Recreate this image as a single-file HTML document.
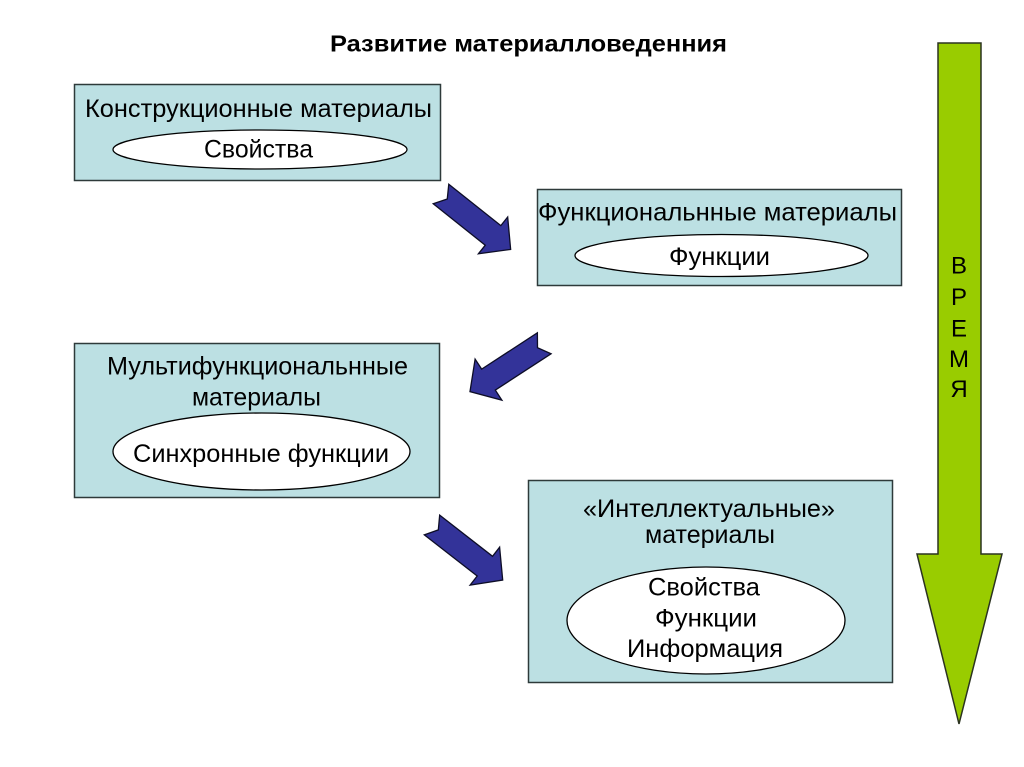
<!DOCTYPE html>
<html>
<head>
<meta charset="utf-8">
<style>
  html, body { margin: 0; padding: 0; background: #ffffff; }
  body { width: 1024px; height: 767px; overflow: hidden; }
  svg { display: block; }
  text { font-family: "Liberation Sans", "DejaVu Sans", sans-serif; fill: #000; }
</style>
</head>
<body>
<svg width="1024" height="767" viewBox="0 0 1024 767" xmlns="http://www.w3.org/2000/svg">
  <rect x="0" y="0" width="1024" height="767" fill="#ffffff"/>

  <!-- Title -->
  <text x="330" y="51.5" font-size="23" font-weight="bold" textLength="397" lengthAdjust="spacingAndGlyphs">Развитие материалловеденния</text>

  <!-- Box 1 -->
  <rect x="74.5" y="84.5" width="366" height="96" fill="#bce0e3" stroke="#2e3a3a" stroke-width="1.5"/>
  <text x="85" y="117" font-size="25" textLength="347" lengthAdjust="spacingAndGlyphs">Конструкционные материалы</text>
  <ellipse cx="260" cy="149.5" rx="147" ry="19.5" fill="#ffffff" stroke="#000" stroke-width="1.3"/>
  <text x="204" y="157.5" font-size="25" textLength="109" lengthAdjust="spacingAndGlyphs">Свойства</text>

  <!-- Box 2 -->
  <rect x="537.5" y="189.5" width="364" height="96" fill="#bce0e3" stroke="#2e3a3a" stroke-width="1.5"/>
  <text x="538" y="220.5" font-size="25" textLength="359" lengthAdjust="spacingAndGlyphs">Функциональнные материалы</text>
  <ellipse cx="721.5" cy="255.5" rx="146.5" ry="21" fill="#ffffff" stroke="#000" stroke-width="1.3"/>
  <text x="669" y="265" font-size="25" textLength="101" lengthAdjust="spacingAndGlyphs">Функции</text>

  <!-- Box 3 -->
  <rect x="74.5" y="343.5" width="365" height="154" fill="#bce0e3" stroke="#2e3a3a" stroke-width="1.5"/>
  <text x="107" y="374.5" font-size="25" textLength="301" lengthAdjust="spacingAndGlyphs">Мультифункциональнные</text>
  <text x="192" y="405.5" font-size="25" textLength="129" lengthAdjust="spacingAndGlyphs">материалы</text>
  <ellipse cx="261.5" cy="451.5" rx="148.5" ry="38.5" fill="#ffffff" stroke="#000" stroke-width="1.3"/>
  <text x="133" y="462" font-size="25" textLength="256" lengthAdjust="spacingAndGlyphs">Синхронные функции</text>

  <!-- Box 4 -->
  <rect x="528.5" y="480.5" width="364" height="202" fill="#bce0e3" stroke="#2e3a3a" stroke-width="1.5"/>
  <text x="583" y="517" font-size="25" textLength="252" lengthAdjust="spacingAndGlyphs">«Интеллектуальные»</text>
  <text x="645" y="543" font-size="25" textLength="130" lengthAdjust="spacingAndGlyphs">материалы</text>
  <ellipse cx="706" cy="620.5" rx="139" ry="53.5" fill="#ffffff" stroke="#000" stroke-width="1.3"/>
  <text x="648" y="595.5" font-size="25" textLength="112" lengthAdjust="spacingAndGlyphs">Свойства</text>
  <text x="655" y="626.5" font-size="25" textLength="102" lengthAdjust="spacingAndGlyphs">Функции</text>
  <text x="627" y="657" font-size="25" textLength="156" lengthAdjust="spacingAndGlyphs">Информация</text>

  <!-- Blue notched arrows -->
  <g fill="#333399" stroke="#0d0d26" stroke-width="1.3" stroke-linejoin="miter">
    <polygon transform="translate(441,194) rotate(38.5)"
      points="0,-12.5 66.5,-12.5 66.5,-23.5 89,0 66.5,23.5 66.5,12.5 0,12.5 8,0"/>
    <polygon transform="translate(544.2,343.3) rotate(146.9)"
      points="0,-12.5 66.5,-12.5 66.5,-24.5 88.6,0 66.5,24.5 66.5,12.5 0,12.5 8,0"/>
    <polygon transform="translate(432,525) rotate(37.9)"
      points="0,-12.5 67,-12.5 67,-24 89.6,0 67,24 67,12.5 0,12.5 8,0"/>
  </g>

  <!-- Green time arrow -->
  <polygon points="938,43 981,43 981,554 1002,554 959,724 917,554 938,554"
    fill="#99cc00" stroke="#2b3320" stroke-width="1.5" stroke-linejoin="miter"/>
  <g font-size="24" text-anchor="middle">
    <text x="959" y="273.5">В</text>
    <text x="959" y="305">Р</text>
    <text x="959" y="336.5">Е</text>
    <text x="959" y="367">М</text>
    <text x="959" y="397">Я</text>
  </g>
</svg>
</body>
</html>
